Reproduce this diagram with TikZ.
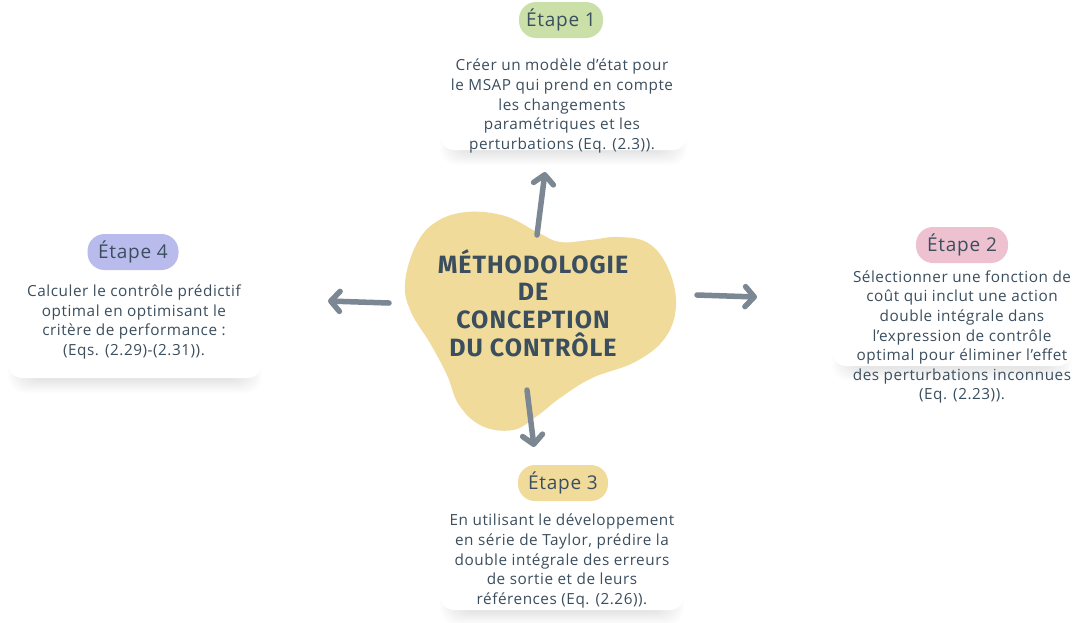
\documentclass[tikz,border=0pt]{standalone}
\usepackage{fontspec}
\setmainfont{Open Sans}[LetterSpace=3.5]
\newfontfamily\headfont{Fira Sans}[LetterSpace=4]
\newfontfamily\pillfont{Open Sans}[LetterSpace=4]
\usetikzlibrary{arrows.meta}
\definecolor{ink}{HTML}{3B4E5E}
\definecolor{arrowgrey}{HTML}{7B8793}
\definecolor{blobyellow}{HTML}{F0DB9B}
\definecolor{pillgreen}{HTML}{CBE0A8}
\definecolor{pillpink}{HTML}{EEC1D0}
\definecolor{pillyellow}{HTML}{F0DB9B}
\definecolor{pilllav}{HTML}{B9BBEC}
\newcommand\cardshadow[3]{%
  \foreach \k in {0,...,13}{%
    \fill[black, opacity=0.008, rounded corners=16] ({#1+\k*1.4},{#3-40}) rectangle ({#2-\k*1.4},{#3+15-\k*1.1});
  }
  \fill[white, rounded corners=14] (#1,{#3-60}) rectangle (#2,#3);
}
\tikzset{
  pill/.style={fill=#1, rounded corners=17, minimum height=36, inner sep=0pt, text=ink, font=\pillfont\fontsize{19}{22}\selectfont},
  bodytext/.style={text=ink, align=center, font=\fontsize{15.3}{19.6}\selectfont, inner sep=0pt},
  headtext/.style={text=ink, align=center, font=\headfont\bfseries\fontsize{25}{27.7}\selectfont, inner sep=0pt},
  arr/.style={draw=arrowgrey, line width=5.5, line cap=round, -{Straight Barb[round, length=9, width=20]}}
}
\begin{document}
\begin{tikzpicture}[x=1pt, y=-1pt]
\useasboundingbox (0,0) rectangle (1076,622);
\fill[white] (0,0) rectangle (1076,622);

% card shadows
\cardshadow{440}{687}{150}
\cardshadow{832}{1072}{366}
\cardshadow{440}{684}{610}
\cardshadow{8}{262}{378}

% central blob
\fill[blobyellow] plot[smooth cycle, tension=0.65] coordinates {
  (405,283) (416,245) (436,222) (467,212) (505,216) (537,232) (560,242)
  (590,240) (618,237) (648,243) (668,268) (676,305) (665,338) (635,362)
  (592,378) (560,398) (537,416) (513,430) (482,426) (459,405) (447,375)
  (430,343) (411,312)};
\node[headtext] (center) at (533,303) {MÉTHODOLOGIE\\DE\\CONCEPTION\\DU CONTRÔLE};

% pills
\node[pill=pillgreen, minimum width=84] (p1) at (561,20) {Étape 1};
\node[pill=pillpink, minimum width=92] (p2) at (962,245) {Étape 2};
\node[pill=pillyellow, minimum width=90] (p3) at (563,483) {Étape 3};
\node[pill=pilllav, minimum width=91] (p4) at (133,252) {Étape 4};

% texts
\node[bodytext] (t1) at (562,106) {Créer un modèle d'état pour\\le MSAP qui prend en compte\\les changements\\paramétriques et les\\perturbations (Eq. (2.3)).};
\node[bodytext] (t2) at (962,337) {Sélectionner une fonction de\\coût qui inclut une action\\double intégrale dans\\l'expression de contrôle\\optimal pour éliminer l'effet\\des perturbations inconnues\\(Eq. (2.23)).};
\node[bodytext] (t3) at (562,561) {En utilisant le développement\\en série de Taylor, prédire la\\double intégrale des erreurs\\de sortie et de leurs\\références (Eq. (2.26)).};
\node[bodytext] (t4) at (134,322) {Calculer le contrôle prédictif\\optimal en optimisant le\\critère de performance :\\(Eqs. (2.29)-(2.31)).};

% arrows
\coordinate (a1s) at (537,235); \coordinate (a1e) at (545,172);
\coordinate (a2s) at (697,295); \coordinate (a2e) at (757,297);
\coordinate (a3s) at (527,390); \coordinate (a3e) at (534,447);
\coordinate (a4s) at (389,303); \coordinate (a4e) at (328,301);
\draw[arr] (a1s) -- (a1e);
\draw[arr] (a2s) -- (a2e);
\draw[arr] (a3s) -- (a3e);
\draw[arr] (a4s) -- (a4e);
\end{tikzpicture}
\end{document}
